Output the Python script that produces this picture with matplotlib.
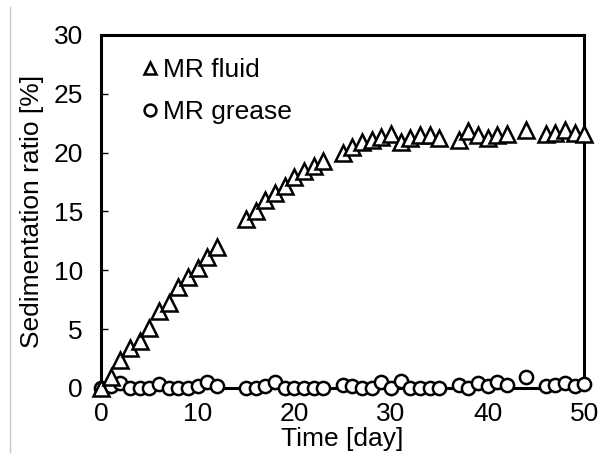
import matplotlib
matplotlib.use("Agg")
import matplotlib.pyplot as plt
from matplotlib.lines import Line2D

plt.rcParams['font.family'] = ['Liberation Sans', 'DejaVu Sans']

days = [0, 1, 2, 3, 4, 5, 6, 7, 8, 9, 10, 11, 12,
        15, 16, 17, 18, 19, 20, 21, 22, 23,
        25, 26, 27, 28, 29, 30, 31, 32, 33, 34, 35,
        37, 38, 39, 40, 41, 42,
        44,
        46, 47, 48, 49, 50]

mr_fluid = [0.0, 0.96, 2.4, 3.4, 4.0, 5.1, 6.5, 7.2, 8.6, 9.4, 10.2, 11.1, 12.0,
            14.4, 15.0, 16.0, 16.6, 17.2, 17.9, 18.4, 18.9, 19.3,
            20.0, 20.5, 20.9, 21.1, 21.3, 21.6, 20.9, 21.2, 21.5, 21.5, 21.2,
            21.1, 21.8, 21.5, 21.2, 21.5, 21.6,
            21.9,
            21.6, 21.7, 21.9, 21.7, 21.6]

mr_grease = [0.0, 0.14, 0.42, 0.0, 0.0, 0.0, 0.34, 0.0, 0.0, 0.0, 0.14, 0.5, 0.14,
             0.0, 0.0, 0.14, 0.5, 0.0, 0.0, 0.0, 0.0, 0.0,
             0.28, 0.14, 0.0, 0.0, 0.5, 0.0, 0.57, 0.0, 0.0, 0.0, 0.0,
             0.28, 0.0, 0.42, 0.14, 0.5, 0.28,
             0.93,
             0.14, 0.28, 0.42, 0.14, 0.34]

yticks = [0, 5, 10, 15, 20, 25, 30]
xticks = [0, 10, 20, 30, 40, 50]

FS = 19

fig = plt.figure(figsize=(5.98, 4.59), dpi=100)
ax = fig.add_axes([0.169, 0.1547, 0.808, 0.7693])

ax.plot(days, mr_grease, linestyle='none', marker='o', markersize=9.5,
        markerfacecolor='white', markeredgecolor='black', markeredgewidth=1.8,
        clip_on=False, zorder=3, label='MR grease')
ax.plot(days, mr_fluid, linestyle='none', marker='^', markersize=11,
        markerfacecolor='white', markeredgecolor='black', markeredgewidth=1.8,
        clip_on=False, zorder=4, label='MR fluid')

ax.set_xlim(0, 50)
ax.set_ylim(0, 30)
ax.set_xticks(xticks)
ax.set_yticks(yticks)
ax.tick_params(axis='y', direction='in', length=5, width=1, pad=13, labelsize=FS)
ax.tick_params(axis='x', length=0, pad=10, labelsize=FS)
for s in ax.spines.values():
    s.set_linewidth(2.2)

ax.set_xlabel('Time [day]', fontsize=FS, labelpad=1)
ax.set_ylabel('Sedimentation ratio [%]', fontsize=FS, labelpad=7)

handles = [
    Line2D([], [], linestyle='none', marker='^', markersize=9, markerfacecolor='white',
           markeredgecolor='black', markeredgewidth=1.8),
    Line2D([], [], linestyle='none', marker='o', markersize=8.5, markerfacecolor='white',
           markeredgecolor='black', markeredgewidth=1.8),
]
ax.legend(handles, ['MR fluid', 'MR grease'], loc='upper left', frameon=False,
          fontsize=FS, handlelength=0.6, handletextpad=0.2, labelspacing=0.7,
          borderpad=0.3, bbox_to_anchor=(0.041, 0.995))

fig.add_artist(Line2D([0.016, 0.016], [0.015, 0.985], transform=fig.transFigure,
                      color='#c8c8c8', linewidth=1))

fig.savefig('out.png', dpi=100)
